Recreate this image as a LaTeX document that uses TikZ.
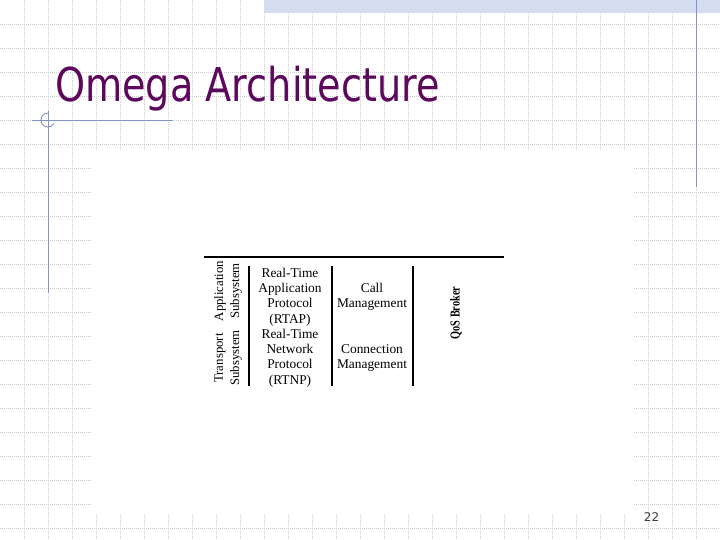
\documentclass[tikz,border=0pt]{standalone}
\usepackage{fontspec}
\usepackage{graphicx}
\setmainfont{Liberation Serif}
\newfontfamily\titlefont{DejaVu Sans}
\definecolor{gridcol}{RGB}{204,204,204}
\definecolor{bandcol}{RGB}{212,221,240}
\definecolor{decocol}{RGB}{132,148,196}
\definecolor{titlecol}{RGB}{92,8,92}
\definecolor{pagecol}{RGB}{60,60,70}
\begin{document}
\begin{tikzpicture}[x=1pt,y=-1pt,
  gridline/.style={draw=gridcol,line width=0.8pt,dash pattern=on 1pt off 1pt},
  deco/.style={draw=decocol,line width=0.9pt},
  rule/.style={draw=black,line width=1.1pt},
  celltext/.style={font=\fontsize{13.4}{15.3}\selectfont,align=center,inner sep=0pt},
  sidetext/.style={font=\fontsize{12.8}{14}\selectfont,rotate=90,inner sep=0pt},
  brokertext/.style={font=\bfseries\fontsize{10.5}{12}\selectfont,rotate=90,inner sep=0pt}]
\useasboundingbox (0,0) rectangle (720,540);
\fill[white] (0,0) rectangle (720,540);
% background grid
\foreach \i in {1,...,29} \draw[gridline] (\i*24,0) -- (\i*24,540);
\foreach \j in {1,...,22} \draw[gridline] (0,\j*24) -- (720,\j*24);
\fill[white] (92,150) rectangle (633,513);
\fill[bandcol] (264,0) rectangle (720,13);
% decorations
\draw[deco] (696,0) -- (696,187);
\draw[deco] (32,120) -- (173,120);
\draw[deco] (48,111) -- (48,293);
\draw[deco] (48,113) arc[start angle=-90,end angle=-330,radius=7];
% title and page number
\node[anchor=base west,inner sep=0pt,text=titlecol,font=\titlefont\fontsize{46.6}{50}\selectfont] (title) at (55,102) {\scalebox{0.82}[1]{Omega Architecture}};
\node[text=pagecol,font=\titlefont\fontsize{12}{14}\selectfont] (page) at (651.5,517.5) {22};
% diagram rules
\draw[rule] (204,257) -- (504,257);
\draw[rule] (249,266) -- (249,386);
\draw[rule] (332,266) -- (332,386);
\draw[rule] (413,266) -- (413,386);
% side labels
\node[sidetext] (app) at (220,291) {Application};
\node[sidetext] (appsub) at (236,291) {Subsystem};
\node[sidetext] (trans) at (220,358) {Transport};
\node[sidetext] (transsub) at (236,358) {Subsystem};
% cells
\node[celltext] (rtap) at (290,297) {Real-Time\\Application\\Protocol\\(RTAP)};
\node[celltext] (rtnp) at (290,358) {Real-Time\\Network\\Protocol\\(RTNP)};
\node[celltext] (call) at (372,297) {Call\\Management};
\node[celltext] (conn) at (372,358) {Connection\\Management};
\node[brokertext] (broker) at (456,313) {\scalebox{0.98}[1.3]{QoS Broker}};
\end{tikzpicture}
\end{document}
